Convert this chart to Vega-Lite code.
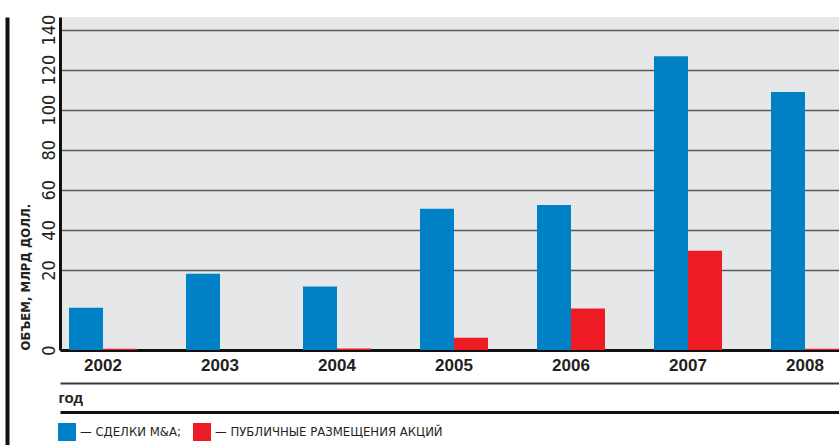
{
  "$schema": "https://vega.github.io/schema/vega-lite/v6.json",
  "autosize": "none",
  "width": 779,
  "height": 333,
  "padding": {"left": 60, "top": 17, "right": 0, "bottom": 95},
  "background": "white",
  "data": {"values": [
    {"year": "2002", "series": "СДЕЛКИ M&A", "value": 18.5},
    {"year": "2003", "series": "СДЕЛКИ M&A", "value": 33.3},
    {"year": "2004", "series": "СДЕЛКИ M&A", "value": 27.7},
    {"year": "2005", "series": "СДЕЛКИ M&A", "value": 61.7},
    {"year": "2006", "series": "СДЕЛКИ M&A", "value": 63.4},
    {"year": "2007", "series": "СДЕЛКИ M&A", "value": 128.4},
    {"year": "2008", "series": "СДЕЛКИ M&A", "value": 112.7},
    {"year": "2002", "series": "ПУБЛИЧНЫЕ РАЗМЕЩЕНИЯ АКЦИЙ", "value": 0.5},
    {"year": "2003", "series": "ПУБЛИЧНЫЕ РАЗМЕЩЕНИЯ АКЦИЙ", "value": 0},
    {"year": "2004", "series": "ПУБЛИЧНЫЕ РАЗМЕЩЕНИЯ АКЦИЙ", "value": 0.7},
    {"year": "2005", "series": "ПУБЛИЧНЫЕ РАЗМЕЩЕНИЯ АКЦИЙ", "value": 5.4},
    {"year": "2006", "series": "ПУБЛИЧНЫЕ РАЗМЕЩЕНИЯ АКЦИЙ", "value": 18.1},
    {"year": "2007", "series": "ПУБЛИЧНЫЕ РАЗМЕЩЕНИЯ АКЦИЙ", "value": 43.4},
    {"year": "2008", "series": "ПУБЛИЧНЫЕ РАЗМЕЩЕНИЯ АКЦИЙ", "value": 0.5}
  ]},
  "layer": [
    {
      "mark": {"type": "bar", "strokeWidth": 0},
      "encoding": {
        "x": {
          "field": "year", "type": "nominal",
          "scale": {"range": [0, 788], "paddingInner": 0.4188, "paddingOuter": 0.077},
          "axis": {
            "orient": "bottom", "title": null, "domainColor": "#111111", "domainWidth": 3,
            "ticks": false, "grid": false, "labelAngle": 0,
            "labelFont": "Liberation Sans", "labelFontWeight": "bold", "labelFontSize": 17,
            "labelColor": "#231f20", "labelPadding": 7
          }
        },
        "xOffset": {
          "field": "series", "type": "nominal",
          "sort": ["СДЕЛКИ M&A", "ПУБЛИЧНЫЕ РАЗМЕЩЕНИЯ АКЦИЙ"],
          "scale": {"paddingInner": 0, "paddingOuter": 0}
        },
        "y": {
          "field": "value", "type": "quantitative",
          "scale": {"domain": [0, 145.5], "nice": false, "zero": true},
          "axis": {
            "orient": "left",
            "values": [0, 35, 52.5, 70, 87.5, 105, 122.5, 140],
            "labelExpr": "datum.value == 0 ? '0' : format((datum.value / 17.5 - 1) * 20, 'd')",
            "labelAngle": 270, "labelAlign": "center", "labelBaseline": "alphabetic",
            "labelFont": "DejaVu Sans Condensed, Liberation Sans, sans-serif", "labelFontSize": 18, "labelColor": "#231f20",
            "labelPadding": 6, "labelOverlap": false, "labelFlush": false,
            "ticks": false, "domainColor": "#111111", "domainWidth": 3,
            "grid": true, "gridColor": "#5a5a5a", "gridWidth": 1.5,
            "title": "ОБЪЕМ, МЛРД ДОЛЛ.", "titleFont": "DejaVu Sans Condensed, Liberation Sans, sans-serif",
            "titleFontSize": 13, "titleFontWeight": "bold", "titleColor": "#231f20",
            "titleAngle": 270, "titleAlign": "left", "titleBaseline": "alphabetic",
            "titleX": -31, "titleY": 333, "titleLimit": 300
          }
        },
        "color": {
          "field": "series", "type": "nominal",
          "scale": {"domain": ["СДЕЛКИ M&A", "ПУБЛИЧНЫЕ РАЗМЕЩЕНИЯ АКЦИЙ"], "range": ["#0081c6", "#ed1c24"]},
          "legend": {
            "orient": "none", "legendX": -2, "legendY": 406, "direction": "horizontal",
            "title": null, "symbolType": "square", "symbolSize": 324, "symbolStrokeWidth": 0,
            "symbolOpacity": 1, "labelFont": "DejaVu Sans Condensed, Liberation Sans, sans-serif", "labelFontSize": 13,
            "labelColor": "#231f20", "labelOffset": 4, "columnPadding": 12, "padding": 0,
            "labelLimit": 400,
            "labelExpr": "'— ' + datum.label + (datum.label == 'СДЕЛКИ M&A' ? ';' : '')"
          }
        }
      }
    },
    {
      "mark": {"type": "rule", "opacity": 0},
      "encoding": {
        "x": {
          "field": "year", "type": "nominal",
          "axis": {
            "orient": "bottom", "offset": 33, "domainColor": "#3a3a3a", "domainWidth": 2,
            "labels": false, "ticks": false, "grid": false,
            "title": "год", "titleFont": "Liberation Sans", "titleFontSize": 15,
            "titleFontWeight": "bold", "titleColor": "#231f20",
            "titleAnchor": "start", "titleAlign": "left", "titleBaseline": "alphabetic",
            "titleX": -2, "titleY": 19
          }
        }
      }
    },
    {
      "mark": {"type": "rule", "opacity": 0},
      "encoding": {
        "x": {
          "field": "year", "type": "nominal",
          "axis": {
            "orient": "bottom", "offset": 62, "domainColor": "#111111", "domainWidth": 3,
            "labels": false, "ticks": false, "grid": false, "title": null
          }
        }
      }
    },
    {
      "mark": {"type": "rule", "opacity": 0},
      "encoding": {
        "y": {
          "field": "value", "type": "quantitative",
          "scale": {"range": [428, 0]},
          "axis": {
            "orient": "left", "offset": 53, "domainColor": "#111111", "domainWidth": 4,
            "labels": false, "ticks": false, "grid": false, "title": null
          }
        }
      }
    }
  ],
  "resolve": {
    "scale": {"y": "independent"},
    "axis": {"x": "independent", "y": "independent"}
  },
  "config": {
    "view": {"fill": "#e6e7e9", "stroke": null}
  }
}
